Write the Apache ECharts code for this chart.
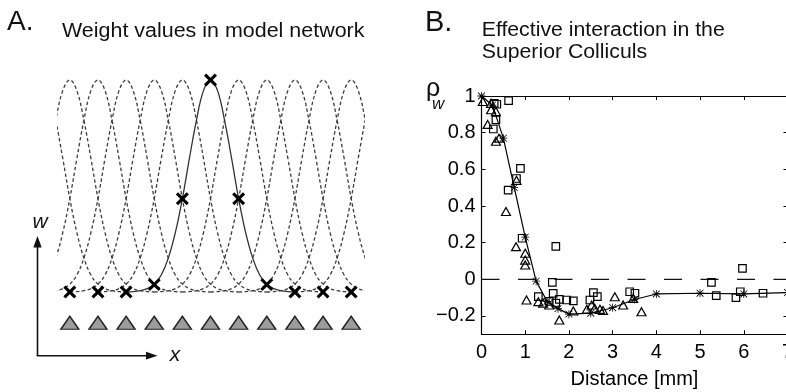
<!DOCTYPE html>
<html><head><meta charset="utf-8">
<script src="https://cdn.jsdelivr.net/npm/echarts@6/dist/echarts.min.js"></script>
<style>html,body{margin:0;padding:0;background:#fff}#c{width:786px;height:392px}</style>
</head><body><div id="c"></div>
<script>
// ---------- Panel A: model network ----------
const unitPositions = [0, 1, 2, 3, 4, 5, 6, 7, 8, 9, 10];
const tuningCenters = [-1, 0, 1, 2, 3, 4, 5, 6, 7, 8, 9, 10, 11];
const activeCenter = 5;
// half profile of one weight curve (offset in unit spacings)
const profileOffsets = [0, 0.25, 0.5, 0.75, 1, 1.25, 1.5, 1.75, 2, 2.25, 2.5, 2.75, 3];
const profileValues  = [1, 0.95, 0.81, 0.63, 0.44, 0.28, 0.16, 0.08, 0.037, 0.016, 0.006, 0.002, 0];
const weightValues = [0, 0, 0, 0.035, 0.44, 1, 0.44, 0.035, 0, 0, 0];
const inputLevel = -0.145;

// ---------- Panel B: superior colliculus ----------
const fitDistance = [0, 0.25, 0.5, 0.75, 1, 1.25, 1.5, 1.75, 2, 2.5, 3, 3.5, 4, 5, 6, 7];
const fitRho      = [1, 0.95, 0.77, 0.5, 0.23, -0.01, -0.12, -0.16, -0.19, -0.185, -0.155, -0.11, -0.08, -0.076, -0.08, -0.072];
const squareDistance = [0.29, 0.35, 0.62, 0.33, 0.27, 0.61, 0.80, 0.89, 0.93, 1.70, 1.62, 1.30, 1.55, 1.64, 1.70, 1.78, 1.95, 2.10, 2.48, 2.56, 2.65, 3.39, 3.51, 5.26, 5.37, 5.82, 5.92, 5.97, 6.44];
const squareRho      = [0.96, 0.955, 0.975, 0.87, 0.82, 0.487, 0.55, 0.605, 0.224, 0.18, -0.017, -0.095, -0.12, -0.077, -0.13, -0.11, -0.113, -0.118, -0.113, -0.073, -0.095, -0.068, -0.076, -0.017, -0.089, -0.1, -0.068, 0.06, -0.076];
const triDistance = [0.03, 0.22, 0.22, 0.33, 0.14, 0.33, 0.40, 0.80, 0.56, 0.79, 1.0, 1.0, 1.0, 1.03, 1.30, 1.41, 1.55, 1.78, 2.10, 2.41, 2.52, 2.59, 2.71, 2.78, 3.05, 3.24, 3.47, 3.66];
const triRho      = [0.97, 0.96, 0.925, 0.915, 0.845, 0.753, 0.77, 0.54, 0.37, 0.178, 0.142, 0.105, 0.078, -0.113, -0.122, -0.13, -0.14, -0.222, -0.173, -0.164, -0.14, -0.158, -0.164, -0.17, -0.095, -0.14, -0.104, -0.177];
const zeroLineX = [0, 7];
const zeroLineY = [0, 0];
const xTicks = [0, 1, 2, 3, 4, 5, 6, 7];
const yTicks = [-0.2, 0, 0.2, 0.4, 0.6, 0.8, 1];

const FONT = '"Liberation Sans", Arial, Helvetica, sans-serif';
const crossPath = 'path://M0,2L2,0L6,4L10,0L12,2L8,6L12,10L10,12L6,8L2,12L0,10L4,6Z';
const starPath = 'path://M4.5,0h1v10h-1z M0,4.5h10v1h-10z M1.1,0.4L9.6,8.9L8.9,9.6L0.4,1.1z M8.9,0.4L9.6,1.1L1.1,9.6L0.4,8.9z';

const fullOffsets = profileOffsets.slice(1).reverse().map(d => -d).concat(profileOffsets);
const fullValues = profileValues.slice(1).reverse().concat(profileValues);

const curveSeries = tuningCenters.map(c => ({
  type: 'line', xAxisIndex: 0, yAxisIndex: 0,
  data: fullOffsets.map((d, i) => [c + d, fullValues[i]]),
  smooth: 0.4, showSymbol: false, silent: true, clip: true,
  z: c === activeCenter ? 3 : 2,
  lineStyle: c === activeCenter
    ? { color: '#333', width: 1.3, type: 'solid' }
    : { color: '#3c3c3c', width: 1.3, type: [3.5, 2.5] }
}));

const zip = (a, b) => a.map((v, i) => [v, b[i]]);

function txt(text, x, y, size, opts) {
  opts = opts || {};
  return {
    type: 'text', x: x, y: y, scaleX: opts.sx || 1, z: 100,
    style: {
      text: text, fill: '#111',
      font: (opts.italic ? 'italic ' : '') + size + 'px ' + FONT,
      align: opts.align || 'left', verticalAlign: 'middle',
      textAlign: opts.align || 'left', textVerticalAlign: 'middle'
    }
  };
}

const option = {
  animation: false,
  backgroundColor: '#fff',
  grid: [
    { left: 58, top: 58.8, width: 305, height: 318, show: false, outerBoundsMode: 'none', containLabel: false },
    { left: 481.5, top: 96, width: 306, height: 238.3, show: false, outerBoundsMode: 'none', containLabel: false }
  ],
  xAxis: [
    { gridIndex: 0, type: 'value', min: -0.42, max: 10.42, show: false },
    { gridIndex: 1, type: 'value', min: 0, max: 7, interval: 1, position: 'bottom',
      axisLine: { onZero: false, lineStyle: { color: '#000', width: 1.2 } },
      axisTick: { inside: true, length: 4, lineStyle: { color: '#000' } },
      axisLabel: { color: '#000', fontSize: 20, fontFamily: FONT, margin: 8, showMaxLabel: true, showMinLabel: true, hideOverlap: false },
      splitLine: { show: false },
      name: 'Distance [mm]', nameLocation: 'middle', nameGap: 35,
      nameTextStyle: { color: '#000', fontSize: 20, fontFamily: FONT }
    },
    { gridIndex: 1, type: 'value', min: 0, max: 7, interval: 1, position: 'top',
      axisLine: { onZero: false, lineStyle: { color: '#000', width: 1.2 } },
      axisTick: { inside: true, length: 4, lineStyle: { color: '#000' } },
      axisLabel: { show: false }, splitLine: { show: false }
    }
  ],
  yAxis: [
    { gridIndex: 0, type: 'value', min: -0.4, max: 1.1, show: false },
    { gridIndex: 1, type: 'value', min: -0.3, max: 1, position: 'left',
      axisLine: { onZero: false, lineStyle: { color: '#000', width: 1.2 } },
      axisTick: { inside: true, length: 4, customValues: yTicks, lineStyle: { color: '#000' } },
      axisLabel: { color: '#000', fontSize: 20, fontFamily: FONT, margin: 6, customValues: yTicks,
        formatter: v => (v < 0 ? '\u2212' + Math.abs(v) : String(v)) },
      splitLine: { show: false }
    },
    { gridIndex: 1, type: 'value', min: -0.3, max: 1, position: 'right',
      axisLine: { onZero: false, lineStyle: { color: '#000', width: 1.2 } },
      axisTick: { inside: true, length: 4, customValues: yTicks, lineStyle: { color: '#000' } },
      axisLabel: { show: false }, splitLine: { show: false }
    }
  ],
  series: curveSeries.concat([
    { type: 'scatter', xAxisIndex: 0, yAxisIndex: 0, z: 5, silent: true,
      data: unitPositions.map(x => [x, inputLevel]),
      symbol: 'triangle', symbolSize: [18, 13],
      itemStyle: { color: '#9c9c9c', borderColor: '#222', borderWidth: 1.4, opacity: 1 } },
    { type: 'scatter', xAxisIndex: 0, yAxisIndex: 0, z: 6, silent: true,
      data: zip(unitPositions, weightValues),
      symbol: crossPath, symbolSize: 13,
      itemStyle: { color: '#000', opacity: 1 } },
    // Panel B
    { type: 'line', xAxisIndex: 1, yAxisIndex: 1, z: 2, silent: true,
      data: zip(zeroLineX, zeroLineY), showSymbol: false,
      lineStyle: { color: '#111', width: 1.2, type: [18, 18.5] } },
    { type: 'scatter', xAxisIndex: 1, yAxisIndex: 1, z: 4, silent: true,
      data: zip(squareDistance, squareRho), symbol: 'rect', symbolSize: 7.5,
      itemStyle: { color: 'rgba(255,255,255,0)', borderColor: '#000', borderWidth: 1.2, opacity: 1 } },
    { type: 'scatter', xAxisIndex: 1, yAxisIndex: 1, z: 4, silent: true,
      data: zip(triDistance, triRho), symbol: 'triangle', symbolSize: [9, 8],
      itemStyle: { color: 'rgba(255,255,255,0)', borderColor: '#000', borderWidth: 1.2, opacity: 1 } },
    { type: 'line', xAxisIndex: 1, yAxisIndex: 1, z: 5, silent: true,
      data: zip(fitDistance, fitRho), symbol: starPath, symbolSize: 8, showAllSymbol: true,
      lineStyle: { color: '#000', width: 1.2 },
      itemStyle: { color: '#000', opacity: 1 } }
  ]),
  graphic: [
    txt('A.', 7, 22, 28),
    txt('Weight values in model network', 62, 31.7, 19.5, { sx: 1.1 }),
    txt('B.', 425, 22.5, 29),
    txt('Effective interaction in the', 481.7, 30.5, 19.5, { sx: 1.09 }),
    txt('Superior Colliculs', 481.7, 53, 19.5, { sx: 1.09 }),
    txt('\u03c1', 426, 89, 25),
    txt('w', 432, 104.5, 17, { italic: true }),
    txt('w', 40, 222, 21, { italic: true, align: 'center' }),
    txt('x', 175, 355, 21, { italic: true, align: 'center' }),
    { type: 'line', shape: { x1: 37.5, y1: 356, x2: 37.5, y2: 244 }, style: { stroke: '#111', lineWidth: 1.6 }, z: 100 },
    { type: 'polygon', shape: { points: [[37.5, 236], [33.3, 247.5], [41.7, 247.5]] }, style: { fill: '#111' }, z: 100 },
    { type: 'line', shape: { x1: 36.7, y1: 355.7, x2: 148, y2: 355.7 }, style: { stroke: '#111', lineWidth: 1.6 }, z: 100 },
    { type: 'polygon', shape: { points: [[157.5, 355.7], [146, 351.8], [146, 359.6]] }, style: { fill: '#111' }, z: 100 }
  ]
};

const chart = echarts.init(document.getElementById('c'), null, { renderer: 'canvas' });
chart.setOption(option);
</script>
</body></html>
